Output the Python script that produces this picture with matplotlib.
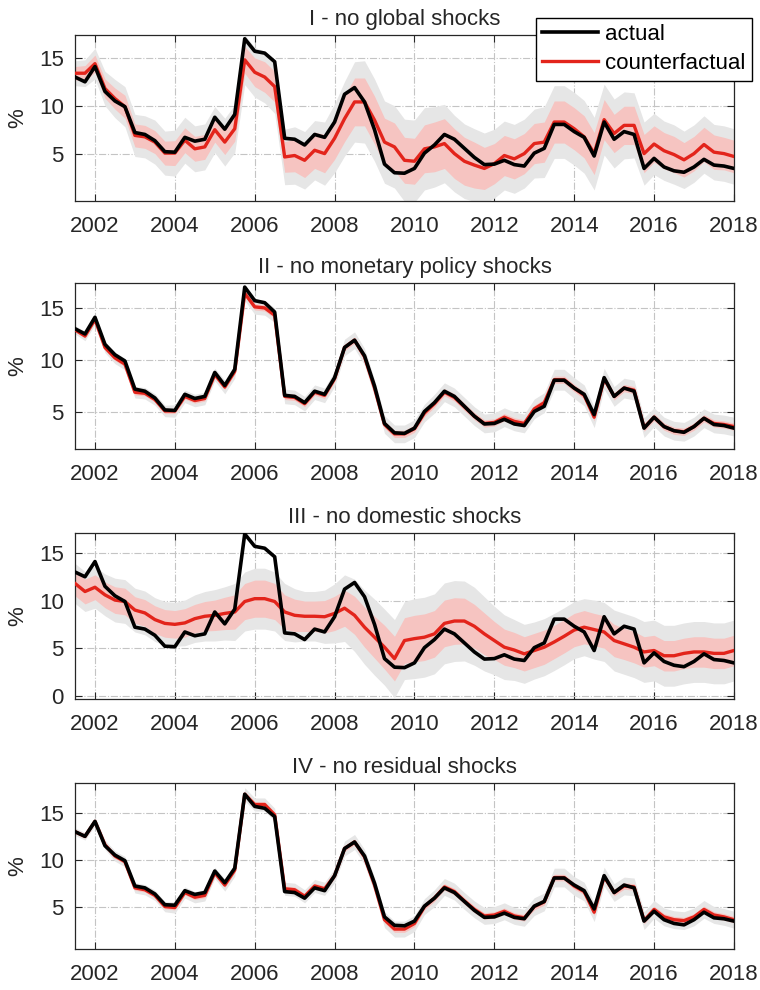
import numpy as np
import matplotlib
matplotlib.use("Agg")
import matplotlib.pyplot as plt

plt.rcParams["font.family"] = ["Liberation Sans", "DejaVu Sans"]
plt.rcParams["font.size"] = 16

# quarterly sample, 2001Q3 .. 2018Q1
dates = np.arange(2001.5, 2018.01, 0.25)

actual = [13.0, 12.5, 14.1, 11.5, 10.5, 9.9,
          7.2, 7.0, 6.35, 5.2,
          5.15, 6.7, 6.3, 6.5,
          8.8, 7.55, 9.1, 17.0,
          15.7, 15.5, 14.6, 6.6,
          6.5, 5.9, 7.0, 6.7,
          8.3, 11.2, 11.9, 10.4,
          7.5, 3.9, 3.0, 2.95,
          3.45, 5.05, 5.9, 7.0,
          6.5, 5.55, 4.6, 3.85,
          3.9, 4.3, 3.85, 3.7,
          5.05, 5.55, 8.05, 8.05,
          7.3, 6.7, 4.75, 8.3,
          6.5, 7.3, 7.0, 3.45,
          4.5, 3.6, 3.2, 3.05,
          3.6, 4.4, 3.8, 3.7,
          3.45]

# counterfactual medians
cf_global = [13.4, 13.4, 14.4, 11.8, 10.75, 9.9,
             6.9, 6.75, 6.2, 5.05,
             5.05, 6.4, 5.5, 5.7,
             7.5, 6.2, 7.6, 14.8,
             13.5, 13.0, 12.0, 4.65,
             4.8, 4.3, 5.35, 5.0,
             6.6, 8.65, 10.4, 10.4,
             8.5, 6.2, 5.7, 4.3,
             4.2, 5.5, 5.7, 6.05,
             5.0, 4.2, 3.8, 3.45,
             3.95, 4.8, 4.45, 5.0,
             6.05, 6.2, 8.3, 8.3,
             7.6, 6.75, 5.0, 8.55,
             7.1, 7.95, 7.95, 5.0,
             6.0, 5.3, 4.9, 4.35,
             5.0, 5.95, 5.15, 5.0,
             4.7]

cf_monetary = [12.9, 12.3, 13.9, 11.2, 10.2, 9.6,
               6.9, 6.8, 6.2, 5.1,
               5.1, 6.5, 6.1, 6.3,
               8.6, 7.4, 8.9, 16.4,
               15.1, 15.0, 14.3, 6.5,
               6.4, 5.8, 6.9, 6.6,
               8.2, 11.2, 11.9, 10.3,
               7.3, 3.8, 2.9, 2.9,
               3.4, 4.9, 5.8, 6.9,
               6.4, 5.5, 4.6, 3.9,
               4.0, 4.5, 4.1, 3.9,
               5.3, 5.9, 8.1, 8.1,
               7.3, 6.6, 4.5, 8.2,
               6.5, 7.3, 7.1, 3.5,
               4.5, 3.6, 3.2, 3.1,
               3.6, 4.4, 3.9, 3.8,
               3.6]

cf_domestic = [11.8, 10.95, 11.4, 10.6, 10.05, 9.9,
               9.0, 8.7, 8.0, 7.6,
               7.5, 7.65, 8.1, 8.35,
               8.45, 8.65, 8.8, 9.9,
               10.2, 10.2, 9.9, 8.8,
               8.45, 8.35, 8.35, 8.3,
               8.65, 9.2, 8.45, 7.2,
               6.15, 5.1, 3.9, 5.8,
               6.0, 6.15, 6.5, 7.6,
               7.85, 7.85, 7.3, 6.5,
               5.8, 5.1, 4.8, 4.4,
               4.75, 5.1, 5.65, 6.25,
               6.9, 7.2, 6.95, 6.7,
               5.8, 5.45, 5.1, 4.6,
               4.75, 4.2, 4.2, 4.45,
               4.6, 4.6, 4.45, 4.45,
               4.75]

cf_residual = [13.0, 12.5, 14.1, 11.6, 10.4, 9.8,
               7.0, 6.8, 6.2, 5.0,
               4.9, 6.5, 6.0, 6.2,
               8.6, 7.3, 8.9, 17.0,
               15.9, 15.9, 14.8, 6.9,
               6.8, 6.1, 7.2, 6.9,
               8.3, 11.2, 11.9, 10.3,
               7.3, 3.6, 2.6, 2.6,
               3.2, 5.0, 5.9, 7.1,
               6.6, 5.6, 4.7, 4.0,
               4.1, 4.5, 4.0, 3.8,
               5.0, 5.5, 8.1, 8.1,
               7.2, 6.6, 4.4, 8.2,
               6.5, 7.2, 7.1, 3.5,
               4.7, 3.9, 3.6, 3.5,
               3.9, 4.7, 4.1, 3.9,
               3.6]

# half-widths of the inner / outer credible bands
inner_global = [0.7, 0.8, 0.9, 1.0, 1.1, 1.2,
                1.2, 1.2, 1.2, 1.25,
                1.3, 1.3, 1.3, 1.3,
                1.3, 1.3, 1.3, 1.4,
                1.5, 1.6, 1.6, 1.6,
                1.7, 1.8, 1.9, 2.0,
                2.2, 2.4, 2.5, 2.5,
                2.5, 2.5, 2.5, 2.4,
                2.4, 2.5, 2.6, 2.6,
                2.6, 2.5, 2.4, 2.2,
                2.1, 2.1, 2.1, 2.1,
                2.1, 2.1, 2.2, 2.2,
                2.2, 2.2, 2.2, 2.1,
                2.0, 2.0, 2.0, 2.0,
                1.9, 1.9, 1.9, 1.8,
                1.8, 1.8, 1.8, 1.7,
                1.7]
outer_global = [1.3, 1.4, 1.6, 1.8, 2.0, 2.1,
                2.2, 2.2, 2.3, 2.3,
                2.4, 2.4, 2.4, 2.4,
                2.4, 2.5, 2.5, 2.6,
                2.6, 2.7, 2.8, 2.9,
                3.0, 3.0, 3.1, 3.3,
                3.6, 3.9, 4.2, 4.3,
                4.3, 4.3, 4.3, 4.3,
                4.3, 4.3, 4.2, 4.1,
                4.0, 3.9, 3.8, 3.7,
                3.6, 3.6, 3.6, 3.6,
                3.6, 3.7, 3.8, 3.8,
                3.8, 3.8, 3.8, 3.7,
                3.6, 3.5, 3.4, 3.3,
                3.2, 3.1, 3.1, 3.0,
                3.0, 3.0, 2.9, 2.9,
                2.9]

inner_monetary = [0.2, 0.2, 0.25, 0.25, 0.25, 0.25,
                  0.25, 0.25, 0.25, 0.25,
                  0.25, 0.25, 0.25, 0.25,
                  0.25, 0.25, 0.25, 0.3,
                  0.3, 0.3, 0.3, 0.3,
                  0.3, 0.3, 0.3, 0.3,
                  0.3, 0.3, 0.3, 0.3,
                  0.3, 0.35, 0.35, 0.35,
                  0.35, 0.35, 0.35, 0.35,
                  0.35, 0.35, 0.35, 0.35,
                  0.35, 0.35, 0.35, 0.35,
                  0.35, 0.35, 0.35, 0.35,
                  0.35, 0.35, 0.35, 0.35,
                  0.35, 0.35, 0.35, 0.35,
                  0.35, 0.35, 0.35, 0.35,
                  0.35, 0.35, 0.35, 0.35,
                  0.35]
outer_monetary = [0.4, 0.45, 0.5, 0.5, 0.55, 0.55,
                  0.55, 0.55, 0.55, 0.55,
                  0.6, 0.6, 0.6, 0.6,
                  0.6, 0.65, 0.65, 0.7,
                  0.7, 0.7, 0.7, 0.7,
                  0.7, 0.7, 0.7, 0.7,
                  0.75, 0.8, 0.8, 0.8,
                  0.8, 0.85, 0.85, 0.85,
                  0.85, 0.85, 0.9, 0.9,
                  0.9, 0.9, 0.9, 0.9,
                  0.9, 0.9, 0.9, 0.9,
                  0.95, 0.95, 1.0, 1.0,
                  1.0, 1.0, 1.0, 1.0,
                  0.95, 0.95, 0.95, 0.95,
                  0.9, 0.9, 0.9, 0.9,
                  0.9, 0.9, 0.9, 0.9,
                  0.9]

inner_domestic = [1.3, 1.3, 1.3, 1.35, 1.4, 1.4,
                  1.4, 1.4, 1.45, 1.45,
                  1.45, 1.5, 1.5, 1.55,
                  1.6, 1.7, 1.8, 1.9,
                  1.95, 1.95, 1.9, 1.8,
                  1.7, 1.6, 1.6, 1.7,
                  1.8, 1.9, 2.0, 2.1,
                  2.2, 2.3, 2.35, 2.4,
                  2.45, 2.45, 2.45, 2.45,
                  2.45, 2.4, 2.3, 2.2,
                  2.0, 1.9, 1.85, 1.8,
                  1.8, 1.8, 1.75, 1.75,
                  1.75, 1.75, 1.7, 1.7,
                  1.7, 1.65, 1.65, 1.6,
                  1.6, 1.6, 1.6, 1.6,
                  1.6, 1.6, 1.6, 1.6,
                  1.6]
outer_domestic = [2.1, 2.1, 2.2, 2.2, 2.3, 2.3,
                  2.3, 2.3, 2.3, 2.3,
                  2.3, 2.4, 2.5, 2.6,
                  2.7, 2.8, 3.0, 3.1,
                  3.2, 3.2, 3.1, 3.0,
                  2.8, 2.6, 2.6, 2.8,
                  3.1, 3.5, 3.8, 3.9,
                  4.0, 4.0, 4.1, 4.1,
                  4.2, 4.2, 4.2, 4.25,
                  4.25, 4.2, 4.1, 3.9,
                  3.6, 3.4, 3.2, 3.1,
                  3.0, 3.0, 3.0, 3.0,
                  3.0, 3.0, 3.1, 3.1,
                  3.2, 3.2, 3.2, 3.2,
                  3.2, 3.2, 3.2, 3.2,
                  3.2, 3.2, 3.2, 3.2,
                  3.2]

inner_residual = [0.2, 0.2, 0.2, 0.25, 0.25, 0.25,
                  0.25, 0.25, 0.25, 0.25,
                  0.25, 0.25, 0.25, 0.25,
                  0.25, 0.25, 0.25, 0.3,
                  0.3, 0.3, 0.3, 0.3,
                  0.3, 0.3, 0.3, 0.3,
                  0.3, 0.3, 0.3, 0.3,
                  0.3, 0.35, 0.35, 0.35,
                  0.35, 0.35, 0.35, 0.35,
                  0.35, 0.35, 0.35, 0.35,
                  0.35, 0.35, 0.35, 0.35,
                  0.35, 0.35, 0.35, 0.35,
                  0.35, 0.35, 0.35, 0.35,
                  0.35, 0.35, 0.35, 0.35,
                  0.35, 0.35, 0.35, 0.35,
                  0.35, 0.35, 0.35, 0.35,
                  0.35]
outer_residual = [0.4, 0.4, 0.45, 0.5, 0.55, 0.55,
                  0.55, 0.55, 0.55, 0.55,
                  0.6, 0.6, 0.6, 0.6,
                  0.6, 0.65, 0.65, 0.7,
                  0.7, 0.7, 0.7, 0.7,
                  0.7, 0.7, 0.7, 0.7,
                  0.75, 0.8, 0.8, 0.8,
                  0.8, 0.85, 0.85, 0.85,
                  0.85, 0.85, 0.9, 0.9,
                  0.9, 0.9, 0.9, 0.9,
                  0.9, 0.9, 0.9, 0.9,
                  0.95, 0.95, 1.0, 1.0,
                  1.0, 1.0, 1.0, 1.0,
                  0.95, 0.95, 0.95, 0.95,
                  0.95, 0.95, 0.95, 0.95,
                  0.95, 0.95, 0.9, 0.9,
                  0.9]

titles = ["I - no global shocks", "II - no monetary policy shocks",
          "III - no domestic shocks", "IV - no residual shocks"]
counterfactuals = [cf_global, cf_monetary, cf_domestic, cf_residual]
inner_bands = [inner_global, inner_monetary, inner_domestic, inner_residual]
outer_bands = [outer_global, outer_monetary, outer_domestic, outer_residual]
ylims = [(0.05, 17.4), (1.45, 17.4), (-0.35, 17.1), (0.47, 18.2)]
yticks = [[5, 10, 15], [5, 10, 15], [0, 5, 10, 15], [5, 10, 15]]

RED = "#e3241b"
PINK = "#f6c4c1"
GREY = "#e6e6e6"
AXIS = "#262626"

fig = plt.figure(figsize=(7.6, 9.9), dpi=100)
bottoms = [0.7970, 0.5465, 0.2939, 0.0414]

for i in range(4):
    ax = fig.add_axes([0.0987, bottoms[i], 0.867, 0.1677])
    cf = np.array(counterfactuals[i])
    inner = np.array(inner_bands[i])
    outer = np.array(outer_bands[i])

    ax.fill_between(dates, cf - outer, cf + outer, color=GREY, lw=0, zorder=1)
    ax.fill_between(dates, cf - inner, cf + inner, color=PINK, lw=0, zorder=2)
    ax.plot(dates, cf, color=RED, lw=2.4, zorder=3, label="counterfactual")
    ax.plot(dates, actual, color="black", lw=2.6, zorder=4, label="actual")

    ax.set_xlim(2001.5, 2018)
    ax.set_ylim(*ylims[i])
    ax.set_xticks(range(2002, 2019, 2))
    ax.set_yticks(yticks[i])
    ax.set_ylabel("%", color=AXIS, labelpad=8)
    ax.set_title(titles[i], color=AXIS, fontsize=16, pad=7)

    ax.grid(True, linestyle="-.", color="#c4c4c4", lw=0.8, zorder=0)
    ax.set_axisbelow(True)
    ax.tick_params(direction="in", length=5, width=0.8, top=True, right=True,
                   colors=AXIS, labelsize=16)
    ax.tick_params(axis="x", pad=11)
    ax.tick_params(axis="y", pad=8)
    for s in ax.spines.values():
        s.set_color(AXIS)
        s.set_linewidth(0.9)

    if i == 0:
        handles, labels = ax.get_legend_handles_labels()
        leg = ax.legend(handles[::-1], labels[::-1], loc="upper right",
                        bbox_to_anchor=(1.027, 1.105), fontsize=16,
                        frameon=True, fancybox=False, framealpha=1,
                        edgecolor="black", handlelength=2.5,
                        handletextpad=0.3, labelspacing=0.35,
                        borderpad=0.3, borderaxespad=0)
        leg.get_frame().set_linewidth(1.0)
        leg.set_zorder(10)

fig.savefig("out.png", dpi=100)
